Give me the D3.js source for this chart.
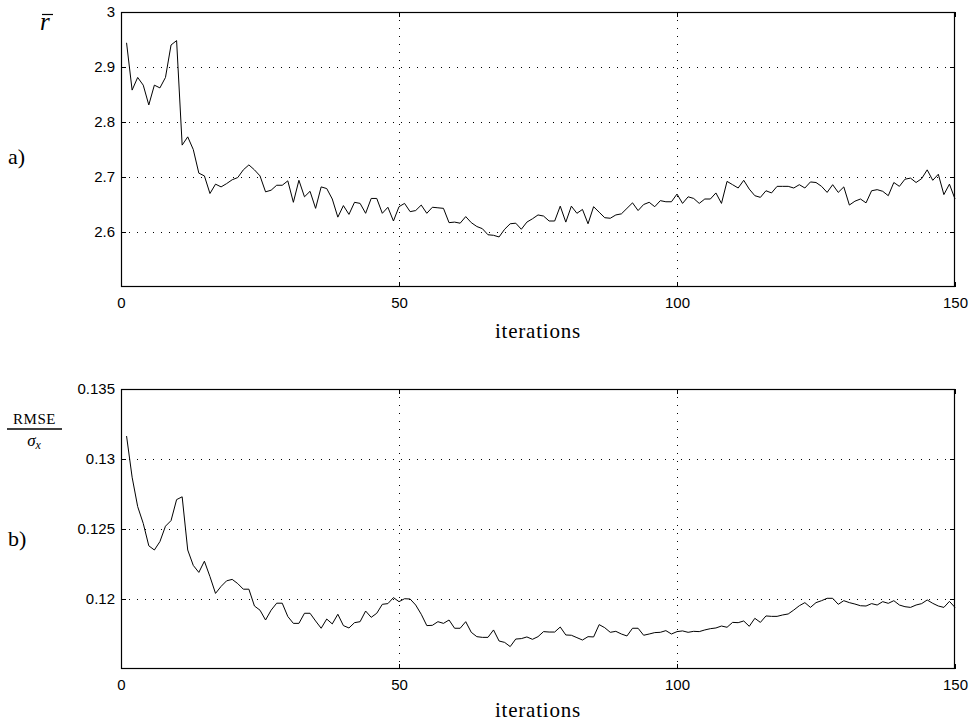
<!DOCTYPE html>
<html>
<head>
<meta charset="utf-8">
<script src="https://cdn.jsdelivr.net/npm/d3@7"></script>
<style>
  body { margin: 0; background: #fff; }
  svg { display: block; }
  .tick text { font-family: "Liberation Sans", Arial, Helvetica, sans-serif; font-size: 15px; fill: #000; }
  .serif { font-family: "Liberation Serif", "DejaVu Serif", serif; fill: #000; }
</style>
</head>
<body>
<svg id="chart" width="972" height="723"></svg>
<script>
// Mean r over the iterations (panel a)
const rBar = [
  2.944, 2.858, 2.881, 2.867, 2.831, 2.867, 2.862, 2.881, 2.940, 2.948,
  2.758, 2.773, 2.750, 2.707, 2.702, 2.670, 2.687, 2.682, 2.688, 2.695,
  2.699, 2.713, 2.722, 2.713, 2.702, 2.673, 2.676, 2.685, 2.685, 2.693,
  2.654, 2.694, 2.664, 2.674, 2.643, 2.682, 2.679, 2.660, 2.627, 2.648,
  2.632, 2.654, 2.652, 2.634, 2.661, 2.661, 2.634, 2.645, 2.620, 2.646,
  2.652, 2.637, 2.639, 2.649, 2.634, 2.645, 2.644, 2.643, 2.617, 2.618,
  2.616, 2.628, 2.617, 2.610, 2.606, 2.595, 2.594, 2.591, 2.605, 2.615,
  2.616, 2.605, 2.618, 2.624, 2.631, 2.629, 2.620, 2.620, 2.647, 2.618,
  2.647, 2.634, 2.641, 2.615, 2.646, 2.636, 2.626, 2.625, 2.631, 2.633,
  2.643, 2.653, 2.639, 2.650, 2.654, 2.646, 2.657, 2.655, 2.655, 2.669,
  2.652, 2.664, 2.661, 2.652, 2.660, 2.660, 2.671, 2.652, 2.692, 2.686,
  2.680, 2.694, 2.678, 2.666, 2.663, 2.675, 2.671, 2.683, 2.683, 2.683,
  2.680, 2.686, 2.680, 2.691, 2.690, 2.683, 2.672, 2.686, 2.672, 2.682,
  2.649, 2.656, 2.660, 2.653, 2.675, 2.677, 2.674, 2.666, 2.690, 2.683,
  2.696, 2.698, 2.690, 2.697, 2.713, 2.694, 2.705, 2.668, 2.687, 2.660
];

// Normalised RMSE over the iterations (panel b)
const rmse = [
  0.13164, 0.12870, 0.12660, 0.12540, 0.12380, 0.12350, 0.12410, 0.12520, 0.12560, 0.12710,
  0.12730, 0.12350, 0.12240, 0.12190, 0.12270, 0.12160, 0.12040, 0.12090, 0.12130, 0.12140,
  0.12110, 0.12070, 0.12070, 0.11950, 0.11920, 0.11850, 0.11920, 0.11970, 0.11970, 0.11875,
  0.11826, 0.11826, 0.11898, 0.11898, 0.11843, 0.11791, 0.11857, 0.11822, 0.11891, 0.11810,
  0.11793, 0.11831, 0.11838, 0.11914, 0.11869, 0.11898, 0.11962, 0.11967, 0.12010, 0.11981,
  0.12002, 0.12000, 0.11957, 0.11891, 0.11810, 0.11812, 0.11838, 0.11826, 0.11850, 0.11791,
  0.11791, 0.11838, 0.11762, 0.11731, 0.11726, 0.11726, 0.11779, 0.11700, 0.11690, 0.11660,
  0.11714, 0.11717, 0.11729, 0.11712, 0.11731, 0.11767, 0.11764, 0.11764, 0.11800, 0.11743,
  0.11741, 0.11724, 0.11707, 0.11731, 0.11729, 0.11817, 0.11795, 0.11762, 0.11769, 0.11750,
  0.11736, 0.11791, 0.11791, 0.11741, 0.11750, 0.11760, 0.11762, 0.11774, 0.11750, 0.11767,
  0.11772, 0.11762, 0.11769, 0.11767, 0.11779, 0.11788, 0.11793, 0.11807, 0.11798, 0.11833,
  0.11831, 0.11843, 0.11805, 0.11862, 0.11833, 0.11879, 0.11876, 0.11876, 0.11886, 0.11893,
  0.11921, 0.11952, 0.11974, 0.11940, 0.11974, 0.11988, 0.12005, 0.12005, 0.11962, 0.11988,
  0.11974, 0.11964, 0.11952, 0.11950, 0.11967, 0.11957, 0.11981, 0.11969, 0.11988, 0.11957,
  0.11945, 0.11940, 0.11957, 0.11967, 0.11993, 0.11969, 0.11950, 0.11940, 0.11983, 0.11940
];

const xTicks = [0, 50, 100, 150];
const yTicksA = [2.6, 2.7, 2.8, 2.9, 3];
const yTicksB = [0.12, 0.125, 0.13, 0.135];
const xLabel = "iterations";

const svg = d3.select("#chart");
const left = 121, right = 955;

function panel(values, yDomain, yTicks, top, bottom, fmt, labelOffset) {
  const g = svg.append("g");
  const x = d3.scaleLinear().domain([0, 150]).range([left, right]);
  const y = d3.scaleLinear().domain(yDomain).range([bottom, top]);
  const w = right - left, h = bottom - top;

  // dotted grid
  const grid = g.append("g").attr("stroke", "#000").attr("stroke-width", 1)
    .attr("stroke-dasharray", "1,7");
  grid.selectAll("line.gx").data(xTicks.filter(d => d > 0 && d < 150)).join("line")
    .attr("x1", d => Math.round(x(d)) + 0.5).attr("x2", d => Math.round(x(d)) + 0.5)
    .attr("y1", top).attr("y2", bottom);
  grid.selectAll("line.gy").data(yTicks.filter(d => y(d) > top + 1)).join("line")
    .attr("y1", d => Math.round(y(d)) + 0.5).attr("y2", d => Math.round(y(d)) + 0.5)
    .attr("x1", left).attr("x2", right);

  // axes with inward ticks
  const ax = g.append("g").attr("transform", `translate(0,${bottom})`)
    .call(d3.axisBottom(x).tickValues(xTicks).tickSize(-5).tickPadding(10).tickFormat(d3.format("d")));
  ax.selectAll("text").attr("dy", "0.71em");
  g.append("g").attr("transform", `translate(0,${top})`)
    .call(d3.axisTop(x).tickValues(xTicks).tickSize(-5).tickFormat(""));
  g.append("g").attr("transform", `translate(${left},0)`)
    .call(d3.axisLeft(y).tickValues(yTicks).tickSize(-5).tickPadding(6).tickFormat(fmt));
  g.append("g").attr("transform", `translate(${right},0)`)
    .call(d3.axisRight(y).tickValues(yTicks).tickSize(-5).tickFormat(""));
  g.selectAll(".domain").remove();
  g.selectAll(".tick line").attr("stroke", "#000");

  // frame
  g.append("rect").attr("x", left + 0.5).attr("y", top + 0.5)
    .attr("width", w - 1).attr("height", h - 1)
    .attr("fill", "none").attr("stroke", "#000").attr("stroke-width", 1.2);

  // data line
  const line = d3.line().x((d, i) => x(i + 1)).y(d => y(d));
  g.append("path").datum(values).attr("d", line)
    .attr("fill", "none").attr("stroke", "#000").attr("stroke-width", 1);

  // x label
  g.append("text").attr("class", "serif").attr("x", (left + right) / 2).attr("y", bottom + labelOffset)
    .attr("text-anchor", "middle").attr("font-size", 21).attr("letter-spacing", 0.8).text(xLabel);
  return g;
}

panel(rBar, [2.5, 3], yTicksA, 12, 287, d => d === 3 ? "3" : d3.format(".1f")(d), 51);
panel(rmse, [0.115, 0.135], yTicksB, 389, 669, d => String(+d.toFixed(3)), 48);

// panel tags
svg.append("text").attr("class", "serif").attr("x", 8).attr("y", 164).attr("font-size", 22).text("a)");
svg.append("text").attr("class", "serif").attr("x", 8).attr("y", 546).attr("font-size", 22).text("b)");

// r-bar label
svg.append("text").attr("class", "serif").attr("x", 40).attr("y", 30)
  .attr("font-size", 25).attr("font-style", "italic").text("r");
svg.append("line").attr("x1", 42).attr("x2", 53).attr("y1", 14.5).attr("y2", 14.5)
  .attr("stroke", "#000").attr("stroke-width", 1.2);

// RMSE / sigma_x label
svg.append("text").attr("class", "serif").attr("x", 34.5).attr("y", 424)
  .attr("text-anchor", "middle").attr("font-size", 15).attr("letter-spacing", 0.6).text("RMSE");
svg.append("line").attr("x1", 7).attr("x2", 62).attr("y1", 429).attr("y2", 429)
  .attr("stroke", "#000").attr("stroke-width", 1.3);
const sig = svg.append("text").attr("class", "serif").attr("x", 34).attr("y", 446)
  .attr("text-anchor", "middle").attr("font-size", 17).attr("font-style", "italic");
sig.append("tspan").text("σ");
sig.append("tspan").attr("font-size", 12).attr("dy", 3).text("x");
</script>
</body>
</html>
